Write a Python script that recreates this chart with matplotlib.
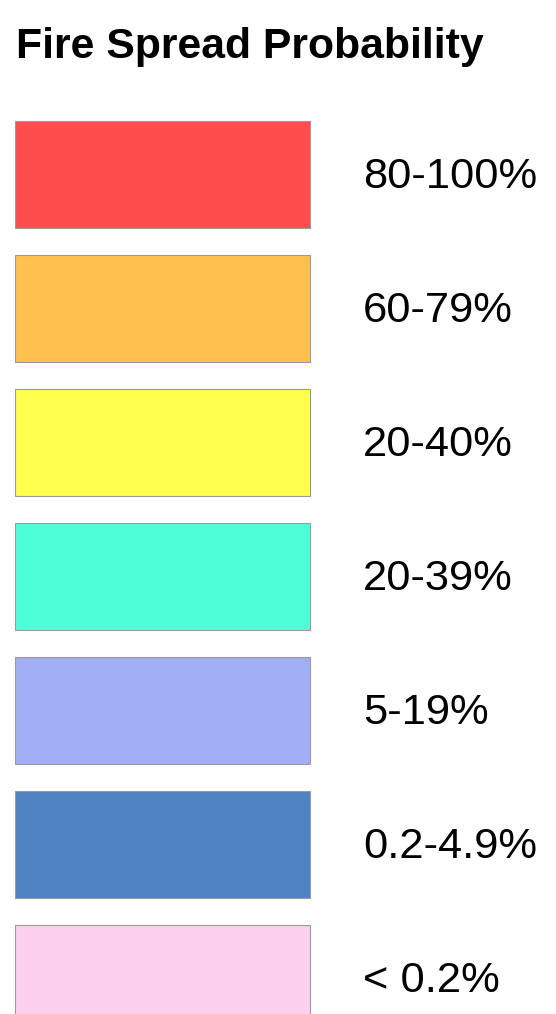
import matplotlib
matplotlib.use("Agg")
import matplotlib.pyplot as plt
from matplotlib.transforms import offset_copy

title = "Fire Spread Probability"
labels = ["80-100%", "60-79%", "20-40%", "20-39%", "5-19%", "0.2-4.9%", "< 0.2%"]
colors = ["#FF4D4D", "#FFC04D", "#FFFF4D", "#4DFFD8", "#A3AFF5", "#4F82C0", "#FDD0EE"]

W, H = 556, 1014
fig = plt.figure(figsize=(W / 100, H / 100), dpi=100)
ax = fig.add_axes([0, 0, 1, 1])
ax.set_xlim(0, W)
pitch = 134.0
c0 = 174.5
ax.set_ylim((H - c0) / pitch, (0 - c0) / pitch)
ax.axis("off")

ypos = list(range(len(labels)))
ax.barh(ypos, [295] * len(labels), left=15, height=107 / pitch,
        color=colors, edgecolor="#9a9a9a", linewidth=0.8)
tr = offset_copy(ax.transData, fig=fig, x=0, y=2, units="dots")
for y, lab in zip(ypos, labels):
    ax.text(363, y, lab, va="center_baseline", ha="left", fontsize=31.3,
            family="Liberation Sans", color="black", transform=tr)

fig.text(16 / W, 1 - 58 / H, title, ha="left", va="baseline", fontsize=30.8,
         fontweight="bold", family="Liberation Sans", color="black")

fig.savefig("out.png", dpi=100)
